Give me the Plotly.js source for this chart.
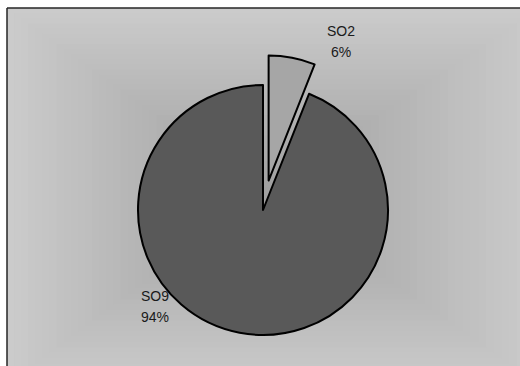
<!DOCTYPE html>
<html>
<head>
<meta charset="utf-8">
<script src="https://cdn.plot.ly/plotly-3.0.1.min.js"></script>
<style>
  html, body { margin: 0; padding: 0; background: #ffffff; }
  #chart { width: 520px; height: 366px; }
</style>
</head>
<body>
<div id="chart"></div>
<script>
// Share of each component
const labels = ['SO2', 'SO9'];
const values = [6, 94];
const sliceColors = ['#a6a6a6', '#595959'];
const pulls = [0.24, 0];

const W = 520, H = 366;
const px = x => x / W;
const py = y => 1 - y / H;

// Stepped rectangular gradient filling the chart frame, light at the edges, darker toward the middle
const shapes = [];
const frame = { x0: 7, y0: 8, x1: 540, y1: 385 };
const mid = { x: 263, y: 192 };
const steps = 36;
for (let i = 0; i < steps; i++) {
  const t = i / steps;
  const g = Math.round(203 - 44 * t);
  shapes.push({
    type: 'rect', xref: 'paper', yref: 'paper', layer: 'below',
    x0: px(frame.x0 + t * (mid.x - frame.x0)),
    x1: px(frame.x1 - t * (frame.x1 - mid.x)),
    y0: py(frame.y0 + t * (mid.y - frame.y0)),
    y1: py(frame.y1 - t * (frame.y1 - mid.y)),
    fillcolor: `rgb(${g},${g},${g})`,
    line: { width: 0 }
  });
}
// Frame outline: top and left edges (the others run past the page)
const edge = { color: '#262626', width: 1.5 };
shapes.push({
  type: 'line', xref: 'paper', yref: 'paper', layer: 'below',
  x0: px(frame.x0), x1: px(W), y0: py(frame.y0), y1: py(frame.y0), line: edge
});
shapes.push({
  type: 'line', xref: 'paper', yref: 'paper', layer: 'below',
  x0: px(frame.x0), x1: px(frame.x0), y0: py(frame.y0), y1: py(H), line: edge
});

// Label positions (name line and percent line)
const total = values.reduce((a, b) => a + b, 0);
const labelPos = [
  { x: 341, y1: 31, y2: 52 },
  { x: 155, y1: 296, y2: 317 }
];
const annotations = [];
labels.forEach((name, i) => {
  const pct = Math.round(values[i] / total * 100) + '%';
  const p = labelPos[i];
  [[name, p.y1], [pct, p.y2]].forEach(([txt, y]) => {
    annotations.push({
      xref: 'paper', yref: 'paper', x: px(p.x), y: py(y),
      xanchor: 'center', yanchor: 'middle', showarrow: false,
      text: txt,
      font: { family: 'Liberation Sans, Arial, sans-serif', size: 14, color: '#1a1a1a' }
    });
  });
});

// Pie centred at (263, 210) with radius 125; the domain leaves room for the pulled slice
const cx = 263, cy = 210, half = 125 * 1.24;

const trace = {
  type: 'pie',
  labels: labels,
  values: values,
  sort: false,
  direction: 'clockwise',
  rotation: 0,
  pull: pulls,
  textinfo: 'none',
  hoverinfo: 'label+percent',
  marker: { colors: sliceColors, line: { color: '#000000', width: 2 } },
  domain: {
    x: [px(cx - half), px(cx + half)],
    y: [py(cy + half), py(cy - half)]
  },
  showlegend: false
};

const layout = {
  width: W, height: H,
  margin: { l: 0, r: 0, t: 0, b: 0 },
  paper_bgcolor: '#ffffff',
  plot_bgcolor: 'rgba(0,0,0,0)',
  showlegend: false,
  shapes: shapes,
  annotations: annotations
};

Plotly.newPlot('chart', [trace], layout, { staticPlot: true, displayModeBar: false });
</script>
</body>
</html>
